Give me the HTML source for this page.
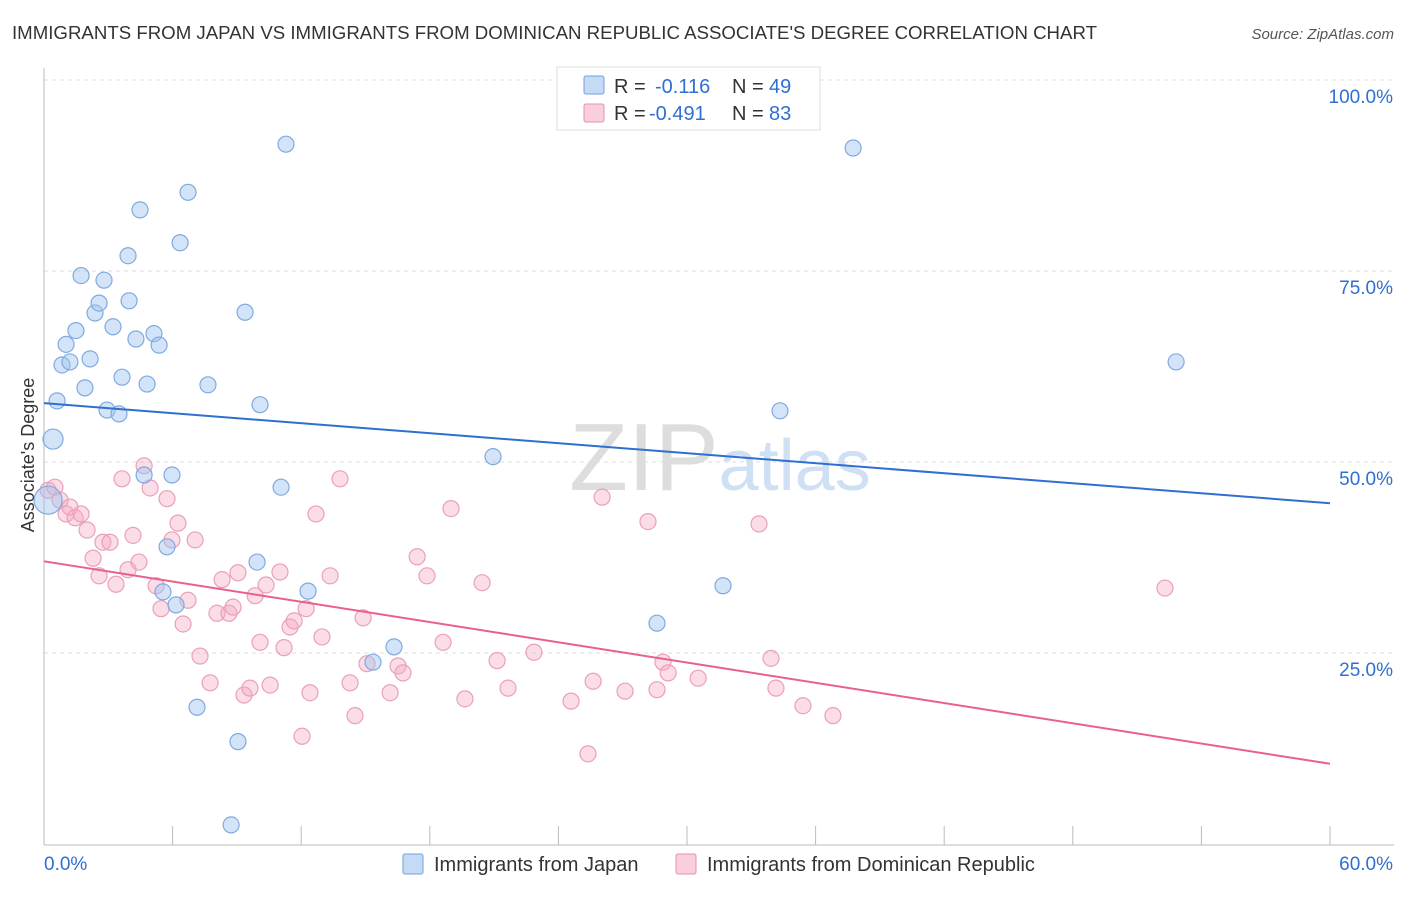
<!DOCTYPE html>
<html><head><meta charset="utf-8"><style>
body{margin:0;background:#fff;font-family:"Liberation Sans",sans-serif;}
svg text{font-family:"Liberation Sans",sans-serif;}
</style></head><body>
<svg id="c" width="1406" height="892" xmlns="http://www.w3.org/2000/svg">
<text x="12" y="39" font-size="18" fill="#333" textLength="1085" lengthAdjust="spacingAndGlyphs">IMMIGRANTS FROM JAPAN VS IMMIGRANTS FROM DOMINICAN REPUBLIC ASSOCIATE'S DEGREE CORRELATION CHART</text>
<text x="1394" y="39" font-size="15" fill="#555" font-style="italic" text-anchor="end">Source: ZipAtlas.com</text>
<text x="720" y="490" font-size="96" fill="#ddd" text-anchor="middle" font-family="Liberation Serif">ZIP<tspan fill="#cfe0f5" font-family="Liberation Sans" font-size="72">atlas</tspan></text>
<g id="grid"></g><g id="axes"></g><g id="pts"></g><g id="trend"></g>
<text transform="translate(34,455) rotate(-90)" font-size="18" fill="#333" text-anchor="middle">Associate's Degree</text>
<g>
<rect x="557" y="67" width="263" height="63" fill="#fff" stroke="#ddd"/>
<rect x="584" y="76" width="20" height="18" fill="#c5daf5" stroke="#6fa0e0" rx="2"/>
<rect x="584" y="104" width="20" height="18" fill="#f9cfdc" stroke="#e890aa" rx="2"/>
<text x="614" y="93" font-size="20" fill="#333">R =</text>
<text x="655" y="93" font-size="20" fill="#2f6fd1">-0.116</text>
<text x="732" y="93" font-size="20" fill="#333">N =</text>
<text x="769" y="93" font-size="20" fill="#2f6fd1">49</text>
<text x="614" y="120" font-size="20" fill="#333">R =</text>
<text x="649" y="120" font-size="20" fill="#2f6fd1">-0.491</text>
<text x="732" y="120" font-size="20" fill="#333">N =</text>
<text x="769" y="120" font-size="20" fill="#2f6fd1">83</text>
</g>
<g>
<rect x="403" y="854" width="20" height="20" fill="#c5daf5" stroke="#6fa0e0" rx="2"/>
<text x="434" y="871" font-size="20" fill="#333">Immigrants from Japan</text>
<rect x="676" y="854" width="20" height="20" fill="#f9cfdc" stroke="#e890aa" rx="2"/>
<text x="707" y="871" font-size="20" fill="#333">Immigrants from Dominican Republic</text>
</g>
</svg>
<script>
const blueX=[0.42,0.61,0.84,1.03,1.21,1.49,1.73,1.91,2.15,2.38,2.57,2.80,2.94,3.22,3.50,3.64,3.92,3.97,4.29,4.48,4.81,5.13,5.37,4.67,5.97,5.74,5.55,6.16,6.35,6.72,7.14,7.65,9.05,8.73,9.38,9.94,10.08,11.06,11.29,12.32,15.35,16.33,20.95,28.60,31.68,34.34,37.75,52.82,0.19];
const blueY=[53.0,58.0,62.7,65.4,63.1,67.2,74.4,59.7,63.5,69.5,70.8,73.8,56.8,67.7,56.3,61.1,77.0,71.1,66.1,83.0,60.2,66.8,65.3,48.3,48.3,38.9,33.0,31.3,78.7,85.3,17.9,60.1,13.4,2.5,69.6,36.9,57.5,46.7,91.6,33.1,23.8,25.8,50.7,28.9,33.8,56.7,91.1,63.1,45.0];
const pinkX=[0.19,0.51,0.75,1.03,1.21,1.45,1.73,2.01,2.29,2.57,2.75,3.08,3.36,3.64,3.92,4.15,4.43,4.67,4.95,5.23,5.46,5.74,5.97,6.25,6.49,6.72,7.05,7.28,7.75,8.07,8.31,8.63,8.82,9.05,9.33,9.61,9.85,10.08,10.36,10.55,11.01,11.20,11.48,11.67,12.04,12.23,12.41,12.69,12.97,13.35,13.81,14.28,14.51,14.89,15.07,16.15,16.52,16.75,17.41,17.87,18.62,18.99,19.64,20.44,21.14,21.65,22.86,24.59,25.38,25.62,26.04,27.11,28.18,28.60,28.88,29.12,30.52,33.36,33.92,34.15,35.41,36.81,52.30];
const pinkY=[46.3,46.7,45.0,43.2,44.1,42.7,43.2,41.1,37.4,35.1,39.5,39.5,34.0,47.8,35.9,40.4,36.9,49.5,46.6,33.8,30.8,45.2,39.8,42.0,28.8,31.9,39.8,24.6,21.1,30.2,34.6,30.2,31.0,35.5,19.5,20.4,32.5,26.4,33.9,20.8,35.6,25.7,28.4,29.2,14.1,30.8,19.8,43.2,27.1,35.1,47.8,21.1,16.8,29.6,23.6,19.8,23.3,22.4,37.6,35.1,26.4,43.9,19.0,34.2,24.0,20.4,25.1,18.7,11.8,21.3,45.4,20.0,42.2,20.2,23.8,22.4,21.7,41.9,24.3,20.4,18.1,16.8,33.5];
const blueTrend=[57.7,44.6];
const pinkTrend=[37.0,10.5];
const yTicks=[25,50,75,100];
const yTickLabels=["25.0%","50.0%","75.0%","100.0%"];
const xTicks=[0,6,12,18,24,30,36,42,48,54,60];

const NS="http://www.w3.org/2000/svg";
const X=v=>44+v/60*1286, Y=v=>844-v/100*764;
function mk(tag,attrs,parent){const e=document.createElementNS(NS,tag);for(const k in attrs)e.setAttribute(k,attrs[k]);document.getElementById(parent).appendChild(e);return e;}
yTicks.forEach((t,i)=>{
 const l=mk('line',{x1:44,x2:1394,y1:Y(t),y2:Y(t),stroke:'#ddd','stroke-dasharray':'4,4'},'grid');
 
 
 const tx=mk('text',{x:1393,y:Y(t)+23,'font-size':19,fill:'#2f6fd1','text-anchor':'end'},'axes');
 tx.textContent=yTickLabels[i];
 
 
});
const ax=mk('line',{x1:44,x2:1394,y1:845,y2:845,stroke:'#bbb'},'axes');


const ay=mk('line',{x1:44,x2:44,y1:68,y2:845,stroke:'#bbb'},'axes');


xTicks.forEach(t=>{
 const l=mk('line',{x1:X(t),x2:X(t),y1:826,y2:845,stroke:'#bbb'},'axes');
 
 
});
let t0=mk('text',{x:44,y:870,'font-size':19,fill:'#2f6fd1'},'axes');t0.textContent='0.0%';


let t1=mk('text',{x:1393,y:870,'font-size':19,fill:'#2f6fd1','text-anchor':'end'},'axes');t1.textContent='60.0%';


pinkX.forEach((v,i)=>{
 const c=mk('circle',{cx:X(v),cy:Y(pinkY[i]),r:8,fill:'rgba(244,170,195,0.4)',stroke:'#eaa0b8','stroke-width':1.2},'pts');
 
 
});
blueX.forEach((v,i)=>{
 const big=(i===0||i===blueX.length-1);
 const c=mk('circle',{cx:X(v),cy:Y(blueY[i]),r:big?(i===0?10:14):8,fill:'rgba(160,195,240,0.45)',stroke:'#7faae0','stroke-width':1.2},'pts');
 
 
});
const bl=mk('line',{x1:X(0),y1:Y(blueTrend[0]),x2:X(60),y2:Y(blueTrend[1]),stroke:'#2f6fd1','stroke-width':2},'trend');


const pl=mk('line',{x1:X(0),y1:Y(pinkTrend[0]),x2:X(60),y2:Y(pinkTrend[1]),stroke:'#e8608e','stroke-width':2},'trend');


</script>
</body></html>
